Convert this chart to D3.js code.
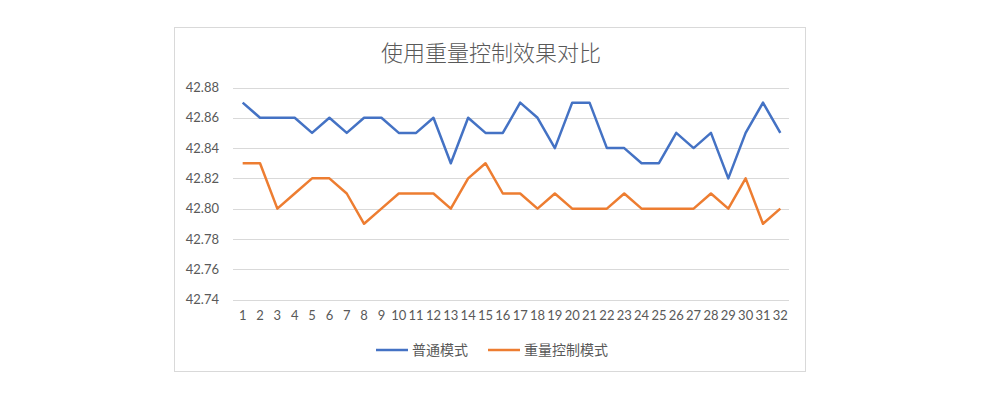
<!DOCTYPE html>
<html>
<head>
<meta charset="utf-8">
<script src="https://cdn.jsdelivr.net/npm/d3@7"></script>
<style>
  body { margin: 0; background: #fff; }
  text { fill: #595959; }
</style>
</head>
<body>
<svg id="chart" width="981" height="398"></svg>
<script>
// data
var categories = d3.range(1, 33).map(String);
var normalMode = [42.87, 42.86, 42.86, 42.86, 42.85, 42.86, 42.85, 42.86, 42.86, 42.85,
                  42.85, 42.86, 42.83, 42.86, 42.85, 42.85, 42.87, 42.86, 42.84, 42.87,
                  42.87, 42.84, 42.84, 42.83, 42.83, 42.85, 42.84, 42.85, 42.82, 42.85,
                  42.87, 42.85];
var weightMode = [42.83, 42.83, 42.80, 42.81, 42.82, 42.82, 42.81, 42.79, 42.80, 42.81,
                  42.81, 42.81, 42.80, 42.82, 42.83, 42.81, 42.81, 42.80, 42.81, 42.80,
                  42.80, 42.80, 42.81, 42.80, 42.80, 42.80, 42.80, 42.81, 42.80, 42.82,
                  42.79, 42.80];
var yTicks = [42.74, 42.76, 42.78, 42.80, 42.82, 42.84, 42.86, 42.88];
var seriesNames = ["普通模式", "重量控制模式"];
var seriesColors = ["#4472C4", "#ED7D31"];
var title = "使用重量控制效果对比";

var svg = d3.select("#chart");
var numFont = "Lato, 'Noto Sans', sans-serif";
var cjkFont = "'Noto Sans CJK SC', sans-serif";

// outer frame
svg.append("rect")
    .attr("x", 174.5).attr("y", 27.5)
    .attr("width", 631).attr("height", 344)
    .attr("fill", "#fff").attr("stroke", "#d9d9d9");

svg.append("text")
    .attr("x", 491).attr("y", 61)
    .attr("text-anchor", "middle")
    .style("font-family", cjkFont)
    .style("font-size", "22px")
    .style("font-weight", 300)
    .text(title);

var x = d3.scaleBand().domain(categories).range([234, 789]);
var y = d3.scaleLinear().domain([42.74, 42.88]).range([299.5, 87.5]);

// grid
svg.append("g").selectAll("line")
    .data(yTicks).enter().append("line")
    .attr("x1", 233).attr("x2", 789)
    .attr("y1", function(d){ return Math.round(y(d)) + 0.5; })
    .attr("y2", function(d){ return Math.round(y(d)) + 0.5; })
    .attr("stroke", "#d9d9d9");

// y axis labels
var yAxis = d3.axisLeft(y).tickValues(yTicks).tickFormat(d3.format(".2f")).tickSize(0).tickPadding(0);
var yg = svg.append("g").attr("transform", "translate(219,0)").call(yAxis);
yg.select(".domain").remove();
yg.selectAll("text")
    .style("font-family", numFont).style("font-size", "13px").style("fill", "#595959");

// x axis labels
var xAxis = d3.axisBottom(x).tickSize(0).tickPadding(0);
var xg = svg.append("g").attr("transform", "translate(0,311)").call(xAxis);
xg.select(".domain").remove();
xg.selectAll("text")
    .style("font-family", numFont).style("font-size", "13px").style("fill", "#595959");

var line = d3.line()
    .x(function(d, i){ return x(categories[i]) + x.bandwidth() / 2; })
    .y(function(d){ return y(d); });

[normalMode, weightMode].forEach(function(series, k){
    svg.append("path")
        .datum(series)
        .attr("d", line)
        .attr("fill", "none")
        .attr("stroke", seriesColors[k])
        .attr("stroke-width", 2.5)
        .attr("stroke-linejoin", "round");
});

// legend
var legendX = [376, 488];
seriesNames.forEach(function(name, k){
    var g = svg.append("g").attr("transform", "translate(" + legendX[k] + ",350)");
    g.append("line")
        .attr("x1", 0).attr("x2", 32)
        .attr("stroke", seriesColors[k]).attr("stroke-width", 2.5);
    g.append("text")
        .attr("x", 36).attr("y", 5)
        .style("font-family", cjkFont).style("font-size", "14px")
        .text(name);
});
</script>
</body>
</html>
